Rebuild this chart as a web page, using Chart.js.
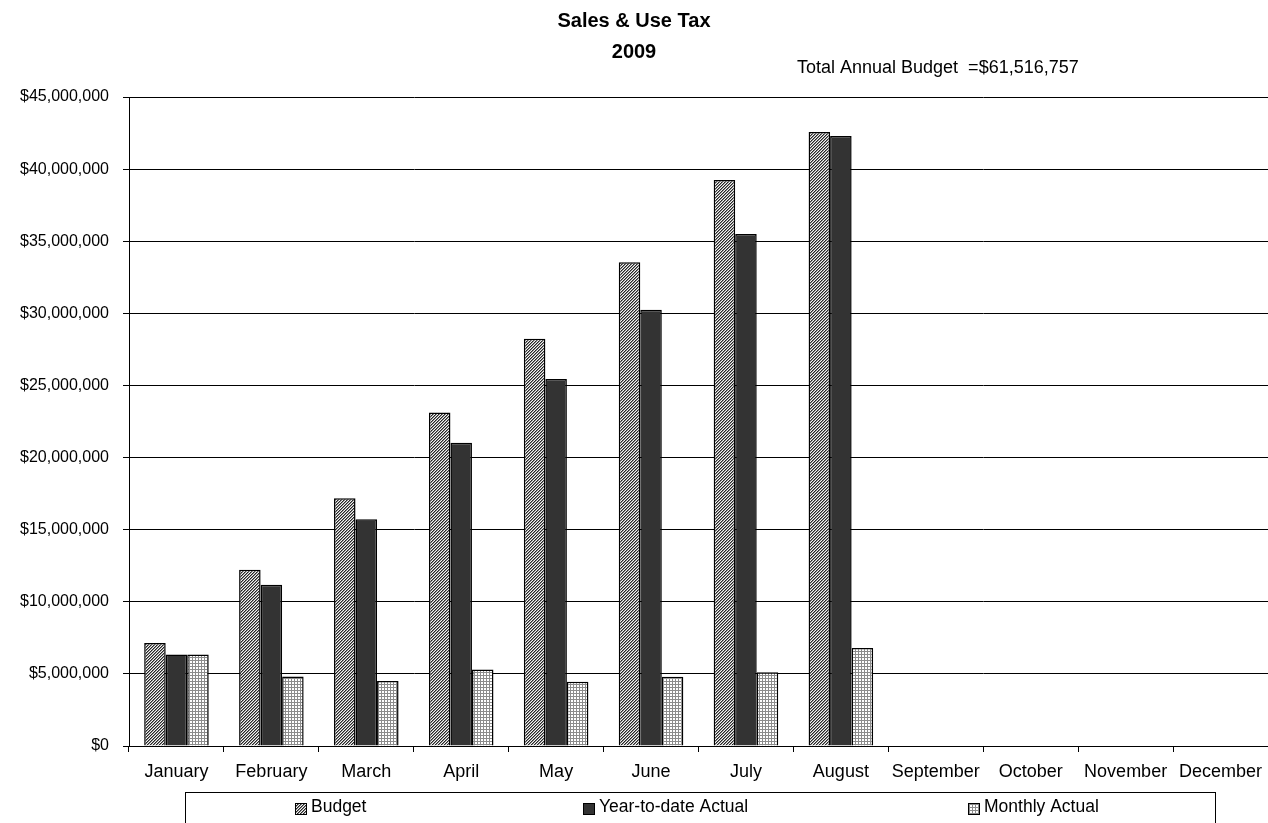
<!DOCTYPE html>
<html>
<head>
<meta charset="utf-8">
<script src="https://cdn.jsdelivr.net/npm/chart.js@4.4.1/dist/chart.umd.min.js"></script>
<style>
    html, body { margin: 0; padding: 0; background: #fff; overflow: hidden; }
    canvas { display: block; }
</style>
</head>
<body>
<canvas id="taxChart" width="1268" height="823"></canvas>
<script>
    // Data
    const months = ['January', 'February', 'March', 'April', 'May', 'June',
                    'July', 'August', 'September', 'October', 'November', 'December'];
    const budget = [7150000, 12220000, 17180000, 23130000, 28240000, 33540000, 39240000, 42580000];
    const ytdActual = [6340000, 11180000, 15730000, 21020000, 25450000, 30250000, 35500000, 42300000];
    const monthlyActual = [6340000, 4820000, 4500000, 5300000, 4450000, 4800000, 5120000, 6800000];
    const seriesNames = ['Budget', 'Year-to-date Actual', 'Monthly Actual'];
    const totalAnnualBudget = 61516757;

    const FONT = 'Liberation Sans, Arial, sans-serif';

    // fill patterns like the old Excel chart
    function makePattern(size, paint) {
        const c = document.createElement('canvas');
        c.width = size;
        c.height = size;
        const g = c.getContext('2d');
        g.fillStyle = '#fff';
        g.fillRect(0, 0, size, size);
        paint(g);
        return g.createPattern(c, 'repeat');
    }

    const hatch = makePattern(3, g => {
        const shades = ['#262626', '#8a8a8a', '#f4f4f4'];
        for (let x = 0; x < 3; x++) {
            for (let y = 0; y < 3; y++) {
                g.fillStyle = shades[(x + y) % 3];
                g.fillRect(x, y, 1, 1);
            }
        }
    });
    const gridFill = makePattern(3, g => {
        g.fillStyle = '#8c8c8c';
        g.fillRect(0, 0, 3, 1);
        g.fillRect(0, 0, 1, 3);
    });
    const fills = [hatch, '#333333', gridFill];

    const money = v => '$' + Number(v).toLocaleString('en-US');

    // annotation + boxed legend drawn under the axis
    const extras = {
        id: 'extras',
        afterDraw(chart) {
            const ctx = chart.ctx;
            ctx.save();
            ctx.fillStyle = '#000';
            ctx.font = '18px ' + FONT;
            ctx.textBaseline = 'alphabetic';
            ctx.textAlign = 'left';
            ctx.fillText('Total Annual Budget  =' + money(totalAnnualBudget), 797, 72.5);

            ctx.strokeStyle = '#000';
            ctx.lineWidth = 1;
            ctx.strokeRect(185.5, 792.5, 1030, 40);

            const markerX = [295, 583, 968];
            ctx.font = '17.5px ' + FONT;
            seriesNames.forEach((name, i) => {
                ctx.fillStyle = fills[i];
                ctx.fillRect(markerX[i], 803, 12, 12);
                ctx.strokeRect(markerX[i] + 0.5, 803.5, 11, 11);
                ctx.fillStyle = '#000';
                ctx.fillText(name, markerX[i] + 16, 811.5);
            });
            ctx.restore();
        }
    };

    const ctx = document.getElementById('taxChart').getContext('2d');
    new Chart(ctx, {
        type: 'bar',
        data: {
            labels: months,
            datasets: [budget, ytdActual, monthlyActual].map((d, i) => ({
                label: seriesNames[i],
                data: d,
                backgroundColor: fills[i],
                borderColor: '#000',
                borderWidth: 1.5,
                categoryPercentage: 0.68,
                barPercentage: 1.0
            }))
        },
        options: {
            responsive: false,
            animation: false,
            devicePixelRatio: 1,
            layout: {
                padding: { left: 0, right: 0, top: 0, bottom: 41 }
            },
            plugins: {
                legend: { display: false },
                tooltip: { enabled: false },
                title: {
                    display: true,
                    text: ['Sales & Use Tax', '2009'],
                    color: '#000',
                    font: { family: FONT, size: 20, weight: 'bold', lineHeight: 1.55 },
                    padding: { top: 6, bottom: 29 }
                }
            },
            scales: {
                x: {
                    grid: {
                        display: true,
                        drawOnChartArea: false,
                        drawTicks: true,
                        tickLength: 6,
                        color: '#000',
                        offset: true
                    },
                    border: { display: true, color: '#000', width: 1 },
                    ticks: {
                        color: '#000',
                        font: { family: FONT, size: 18 },
                        padding: 9,
                        maxRotation: 0,
                        autoSkip: false
                    },
                    afterFit(scale) {
                        scale.height = 36;
                        scale.paddingRight = 0;
                    }
                },
                y: {
                    min: 0,
                    max: 45000000,
                    grid: {
                        color: '#000',
                        lineWidth: 1,
                        drawTicks: true,
                        tickLength: 6,
                        tickColor: '#000'
                    },
                    border: { display: true, color: '#000', width: 1 },
                    ticks: {
                        stepSize: 5000000,
                        color: '#000',
                        font: { family: FONT, size: 16 },
                        padding: 14,
                        callback: v => money(v)
                    },
                    afterFit(scale) { scale.width = 129; }
                }
            }
        },
        plugins: [extras]
    });
</script>
</body>
</html>
